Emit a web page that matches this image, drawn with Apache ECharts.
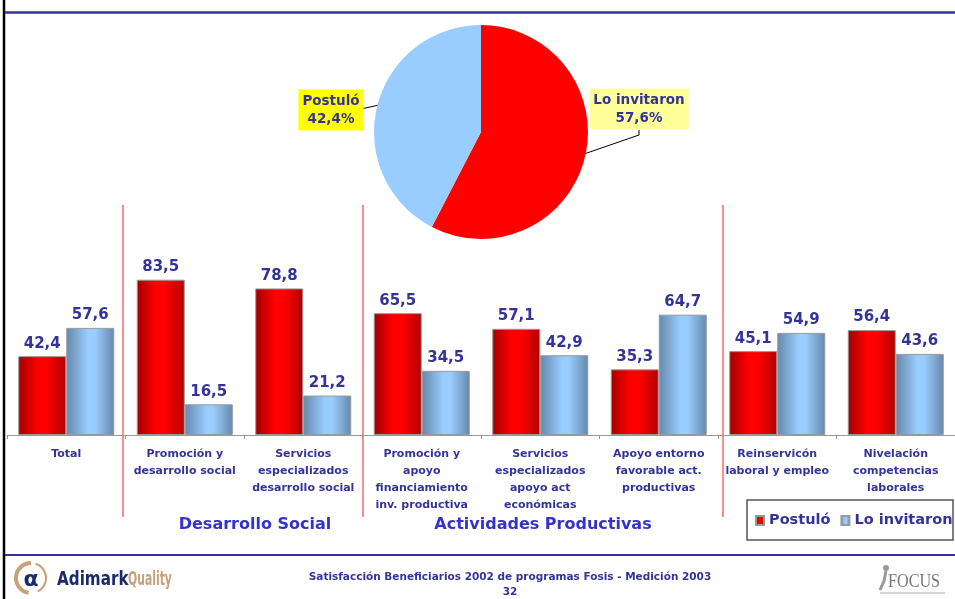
<!DOCTYPE html>
<html>
<head>
<meta charset="utf-8">
<script src="https://cdn.jsdelivr.net/npm/echarts@6/dist/echarts.min.js"></script>
<style>
  html, body { margin: 0; padding: 0; background: #fff; }
  #main { width: 955px; height: 599px; }
</style>
</head>
<body>
<div id="main"></div>
<script>
// datos
const categorias = [
  'Total',
  'Promoción y\ndesarrollo social',
  'Servicios\nespecializados\ndesarrollo social',
  'Promoción y\napoyo\nfinanciamiento\ninv. productiva',
  'Servicios\nespecializados\napoyo act\neconómicas',
  'Apoyo entorno\nfavorable act.\nproductivas',
  'Reinservicón\nlaboral y empleo',
  'Nivelación\ncompetencias\nlaborales'
]
const postulo = [42.4, 83.5, 78.8, 65.5, 57.1, 35.3, 45.1, 56.4]
const invitaron = [57.6, 16.5, 21.2, 34.5, 42.9, 64.7, 54.9, 43.6]
const pieNombres = ['Lo invitaron', 'Postuló']
const pieValores = [57.6, 42.4]

const azul = '#333399'
const coma = v => String(v.toFixed ? v.toFixed(1) : v).replace('.', ',')

const rojoGrad = new echarts.graphic.LinearGradient(0, 0, 1, 0, [
  { offset: 0, color: '#a00000' },
  { offset: 0.4, color: '#ff0000' },
  { offset: 0.6, color: '#ff0000' },
  { offset: 1, color: '#b00000' }
])
const azulGrad = new echarts.graphic.LinearGradient(0, 0, 1, 0, [
  { offset: 0, color: '#6688aa' },
  { offset: 0.45, color: '#99ccff' },
  { offset: 0.6, color: '#99ccff' },
  { offset: 1, color: '#6688aa' }
])

const pieColores = ['#ff0000', '#99ccff']
const pieFondos = ['#ffff99', '#ffff00']
// posición de las etiquetas de la torta
const pieEtiquetas = [[639, 109], [331, 110]]

const chart = echarts.init(document.getElementById('main'))

const option = {
  animation: false,
  textStyle: { fontFamily: 'DejaVu Sans, Verdana, sans-serif' },
  grid: { left: 7, width: 949, top: 249, height: 186 },
  legend: {
    data: ['Postuló', 'Lo invitaron'],
    orient: 'horizontal',
    left: 755,
    top: 513,
    width: 200,
    padding: 0,
    itemWidth: 8,
    itemHeight: 9,
    itemGap: 10,
    icon: 'rect',
    textStyle: { color: azul, fontWeight: 'bold', fontSize: 14.5 }
  },
  xAxis: {
    type: 'category',
    data: categorias,
    axisLine: { lineStyle: { color: '#999', width: 1 } },
    axisTick: { show: true, length: 4, lineStyle: { color: '#999' } },
    axisLabel: {
      interval: 0,
      color: azul,
      fontWeight: 'bold',
      fontSize: 11,
      lineHeight: 17,
      margin: 11
    }
  },
  yAxis: { type: 'value', min: 0, max: 100, show: false },
  series: [
    {
      name: 'Postuló',
      type: 'bar',
      data: postulo,
      barWidth: 48,
      barGap: '0%',
      itemStyle: { color: rojoGrad, borderColor: '#999', borderWidth: 1 },
      label: {
        show: true, position: 'top', distance: 5,
        color: azul, fontWeight: 'bold', fontSize: 15,
        formatter: p => coma(p.value)
      }
    },
    {
      name: 'Lo invitaron',
      type: 'bar',
      data: invitaron,
      barWidth: 48,
      itemStyle: { color: azulGrad, borderColor: '#999', borderWidth: 1 },
      label: {
        show: true, position: 'top', distance: 5,
        color: azul, fontWeight: 'bold', fontSize: 15,
        formatter: p => coma(p.value)
      }
    },
    {
      name: 'torta',
      type: 'pie',
      center: [481, 132],
      radius: 107,
      startAngle: 90,
      clockwise: true,
      data: pieNombres.map((n, i) => ({
        name: n,
        value: pieValores[i],
        itemStyle: { color: pieColores[i] },
        label: { backgroundColor: pieFondos[i] }
      })),
      label: {
        show: true,
        color: azul,
        fontWeight: 'bold',
        fontSize: 13.5,
        lineHeight: 18,
        padding: [3, 4, 2, 4],
        align: 'center',
        formatter: p => p.name + '\n' + coma(p.percent) + '%'
      },
      labelLine: { show: false },
      labelLayout: p => ({
        x: pieEtiquetas[p.dataIndex][0],
        y: pieEtiquetas[p.dataIndex][1],
        align: 'center',
        verticalAlign: 'middle'
      })
    }
  ],
  graphic: [
    // bordes de la lámina
    { type: 'line', shape: { x1: 4, y1: 0, x2: 4, y2: 599 }, style: { stroke: '#000', lineWidth: 2.5 } },
    { type: 'line', shape: { x1: 5, y1: 12.5, x2: 955, y2: 12.5 }, style: { stroke: azul, lineWidth: 2.5 } },
    { type: 'line', shape: { x1: 5, y1: 555, x2: 955, y2: 555 }, style: { stroke: azul, lineWidth: 2 } },
    // líneas guía de la torta
    { type: 'polyline', shape: { points: [[639, 130], [639, 135], [584, 154]] }, style: { stroke: '#000', lineWidth: 1, fill: 'none' } },
    { type: 'polyline', shape: { points: [[361, 109], [379, 105]] }, style: { stroke: '#000', lineWidth: 1, fill: 'none' } },
    // separadores
    { type: 'line', shape: { x1: 123, y1: 205, x2: 123, y2: 517 }, style: { stroke: '#ff6666', lineWidth: 1.5 } },
    { type: 'line', shape: { x1: 363, y1: 205, x2: 363, y2: 517 }, style: { stroke: '#ff6666', lineWidth: 1.5 } },
    { type: 'line', shape: { x1: 723, y1: 205, x2: 723, y2: 517 }, style: { stroke: '#ff6666', lineWidth: 1.5 } },
    // títulos de grupo
    { type: 'text', x: 255, y: 525, style: { text: 'Desarrollo Social', fill: '#3333cc', font: 'bold 16px DejaVu Sans', align: 'center', verticalAlign: 'middle' } },
    { type: 'text', x: 543, y: 525, style: { text: 'Actividades Productivas', fill: '#3333cc', font: 'bold 16px DejaVu Sans', align: 'center', verticalAlign: 'middle' } },
    // caja de leyenda
    { type: 'rect', shape: { x: 747, y: 500, width: 206, height: 40 }, style: { fill: 'none', stroke: '#555', lineWidth: 1.5 } },
    // pie de página
    { type: 'text', x: 510, y: 577, style: { text: 'Satisfacción Beneficiarios 2002 de programas Fosis - Medición 2003', fill: azul, font: 'bold 10.5px DejaVu Sans', align: 'center', verticalAlign: 'middle' } },
    { type: 'text', x: 510, y: 592, style: { text: '32', fill: azul, font: 'bold 10.5px DejaVu Sans', align: 'center', verticalAlign: 'middle' } },
    // logo Adimark
    { type: 'arc', shape: { cx: 31, cy: 578, r: 15, startAngle: Math.PI * 0.55, endAngle: Math.PI * 1.5 }, style: { stroke: '#c8a07a', lineWidth: 4, fill: 'none' } },
    { type: 'arc', shape: { cx: 31, cy: 578, r: 15, startAngle: Math.PI * 1.6, endAngle: Math.PI * 0.35 }, style: { stroke: '#c8a07a', lineWidth: 2, fill: 'none' } },
    { type: 'text', x: 31, y: 580, style: { text: 'α', fill: '#1a2a6c', font: 'bold 22px DejaVu Sans', align: 'center', verticalAlign: 'middle' } },
    { type: 'text', x: 57, y: 580, scaleX: 0.8, style: { text: 'Adimark', fill: '#1a2a6c', font: 'bold 19px DejaVu Sans', verticalAlign: 'middle' } },
    { type: 'text', x: 128, y: 580, scaleX: 0.57, style: { text: 'Quality', fill: '#c8a07a', font: 'bold 19px DejaVu Sans', verticalAlign: 'middle' } },
    // logo FOCUS
    { type: 'text', x: 888, y: 582, scaleX: 0.85, style: { text: 'FOCUS', fill: '#777', font: '19px Liberation Serif', verticalAlign: 'middle' } },
    { type: 'circle', shape: { cx: 886, cy: 568, r: 3 }, style: { fill: '#999' } },
    { type: 'polyline', shape: { points: [[886, 571], [884, 581], [880, 590]] }, style: { stroke: '#999', lineWidth: 3, fill: 'none' } },
    { type: 'line', shape: { x1: 880, y1: 593, x2: 945, y2: 593 }, style: { stroke: '#aaa', lineWidth: 1 } }
  ]
}

chart.setOption(option)
</script>
</body>
</html>
